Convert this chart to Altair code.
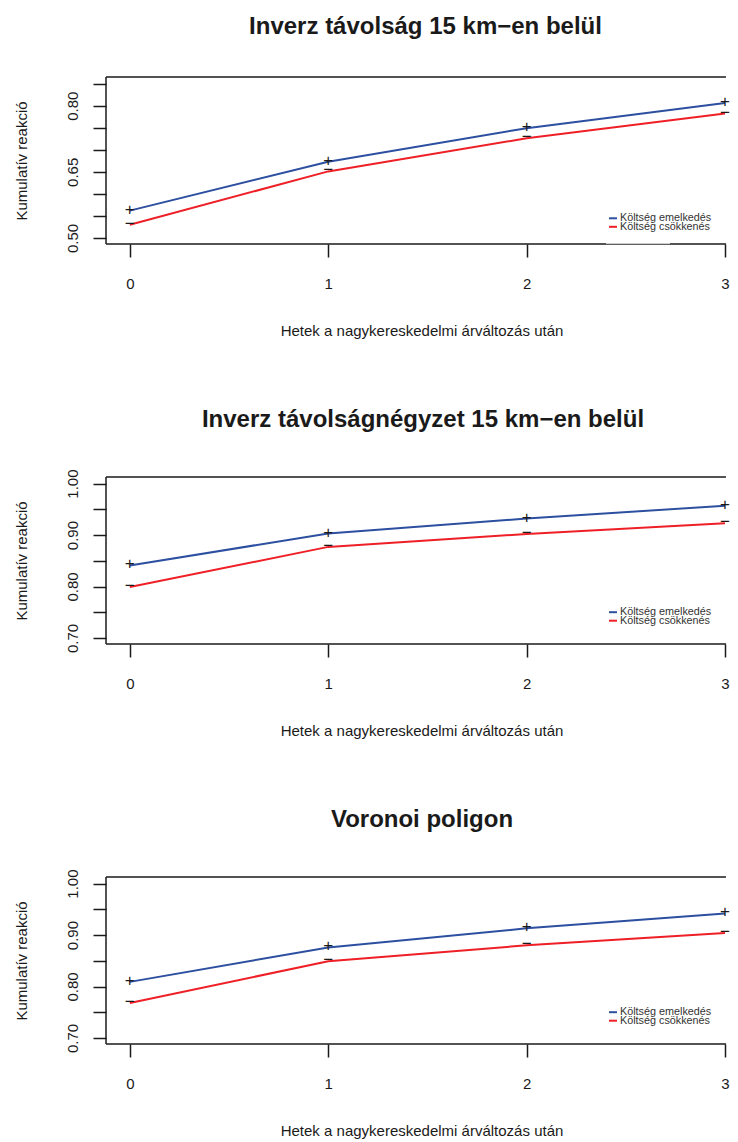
import altair as alt
import pandas as pd

# ---------------- data ----------------
weeks = [0, 1, 2, 3]
series_names = ["Költség emelkedés", "Költség csökkenés"]
series_markers = ["+", "−"]
series_colors = ["#2D4FA0", "#EE1F26"]

titles = [
    "Inverz távolság 15 km−en belül",
    "Inverz távolságnégyzet 15 km−en belül",
    "Voronoi poligon",
]

p1_up = [0.562, 0.673, 0.749, 0.806]
p1_down = [0.530, 0.651, 0.726, 0.782]
p2_up = [0.841, 0.903, 0.932, 0.957]
p2_down = [0.799, 0.877, 0.902, 0.923]
p3_up = [0.809, 0.876, 0.913, 0.942]
p3_down = [0.768, 0.849, 0.880, 0.904]

p1_ticks = [0.50, 0.55, 0.60, 0.65, 0.70, 0.75, 0.80, 0.85]
p1_labels = ["0.50", "0.65", "0.80"]
p23_ticks = [0.70, 0.75, 0.80, 0.85, 0.90, 0.95, 1.00]
p23_labels = ["0.70", "0.80", "0.90", "1.00"]

x_title = "Hetek a nagykereskedelmi árváltozás után"
y_title = "Kumulatív reakció"

# ---------------- style ----------------
W, H = 620, 167
XDOM = [-0.12, 3.005]
FONT = "Liberation Sans"
INK = "#1a1a1a"
one = pd.DataFrame({"k": [0]})


def panel(title, up, down, ydomain, ticks, labels, legend_y, title_dx, gap=False):
    df = pd.DataFrame({
        "week": weeks * 2,
        "value": up + down,
        "series": [series_names[0]] * len(weeks) + [series_names[1]] * len(weeks),
        "marker": [series_markers[0]] * len(weeks) + [series_markers[1]] * len(weeks),
    })
    label_list = "[" + ",".join("'%s'" % l for l in labels) + "]"
    x = alt.X(
        "week:Q",
        scale=alt.Scale(domain=XDOM, nice=False, zero=False),
        axis=alt.Axis(
            values=weeks, tickCount=20, format="d", title=x_title, grid=False, domain=False,
            tickSize=13, tickWidth=1.5, tickColor=INK,
            labelFont=FONT, labelFontSize=15, labelColor=INK,
            labelBaseline="alphabetic", labelPadding=31, labelFlush=False,
            titleFont=FONT, titleFontSize=15, titleFontWeight="normal",
            titleColor=INK, titleBaseline="alphabetic", titleAlign="center",
            titleX=W / 2 + 5.5, titleY=91.5,
        ),
    )
    y = alt.Y(
        "value:Q",
        scale=alt.Scale(domain=ydomain, nice=False, zero=False),
        axis=alt.Axis(
            values=ticks, tickCount=20, format=".2f",
            labelExpr="indexof(%s, datum.label) >= 0 ? datum.label : ''" % label_list,
            title=y_title, grid=False, domain=False,
            tickSize=13, tickWidth=1.5, tickColor=INK,
            labelFont=FONT, labelFontSize=15, labelColor=INK,
            labelAngle=270, labelAlign="center", labelBaseline="alphabetic",
            labelPadding=16, labelOverlap=False, labelFlush=False,
            titleFont=FONT, titleFontSize=15, titleFontWeight="normal",
            titleColor=INK, titleAngle=270, titleAlign="center",
            titleBaseline="alphabetic", titleX=-80, titleY=H / 2,
        ),
    )
    color = alt.Color(
        "series:N",
        scale=alt.Scale(domain=series_names, range=series_colors),
        legend=None,
    )
    base = alt.Chart(df)
    lines = base.mark_line(strokeWidth=2).encode(x=x, y=y, color=color)
    pts = base.mark_text(font=FONT, fontSize=17, color=INK, dy=-1).encode(
        x="week:Q", y="value:Q", text="marker:N"
    )
    fr = alt.Chart(one)
    top = fr.mark_rule(color=INK, strokeWidth=1.5).encode(
        x=alt.value(0), x2=alt.value(W), y=alt.value(0))
    left = fr.mark_rule(color=INK, strokeWidth=1.5).encode(
        x=alt.value(0), y=alt.value(0), y2=alt.value(H))
    bottom = fr.mark_rule(color=INK, strokeWidth=1.5).encode(
        x=alt.value(0), x2=alt.value(W), y=alt.value(H))
    layers = [top, left, bottom, lines, pts]
    if gap:
        cover = fr.mark_rule(color="white", strokeWidth=0.8).encode(
            x=alt.value(500), x2=alt.value(564), y=alt.value(H - 0.4))
        layers.append(cover)
    # legend (bottom-right key)
    for i, (name, col) in enumerate(zip(series_names, series_colors)):
        yy = legend_y + i * 8.5
        layers.append(fr.mark_rule(color=col, strokeWidth=2).encode(
            x=alt.value(503), x2=alt.value(511), y=alt.value(yy)))
        layers.append(fr.mark_text(
            align="left", baseline="middle", font=FONT, fontSize=10.8,
            color="#333333").encode(
            x=alt.value(514), y=alt.value(yy), text=alt.value(name)))
    return alt.layer(*layers).properties(
        width=W, height=H,
        title=alt.TitleParams(
            title, font=FONT, fontSize=24, fontWeight="bold", color=INK,
            anchor="middle", frame="group", baseline="alphabetic",
            offset=18, dx=title_dx,
        ),
    )


c1 = panel(titles[0], p1_up, p1_down, [0.4864, 0.865], p1_ticks, p1_labels, 141.3, 9.5, gap=True)
c2 = panel(titles[1], p2_up, p2_down, [0.6883, 1.0128], p23_ticks, p23_labels, 135.2, 7)
c3 = panel(titles[2], p3_up, p3_down, [0.6883, 1.0128], p23_ticks, p23_labels, 135.2, 6)

chart = (
    alt.vconcat(c1, c2, c3, spacing=233, bounds="flush")
    .resolve_scale(x="independent", y="independent", color="independent")
    .properties(padding={"left": 6, "top": 7, "right": 0, "bottom": 0}, background="white")
    .configure_view(stroke=None)
)

chart.save("out.html", embed_options={"renderer": "svg", "actions": False})
